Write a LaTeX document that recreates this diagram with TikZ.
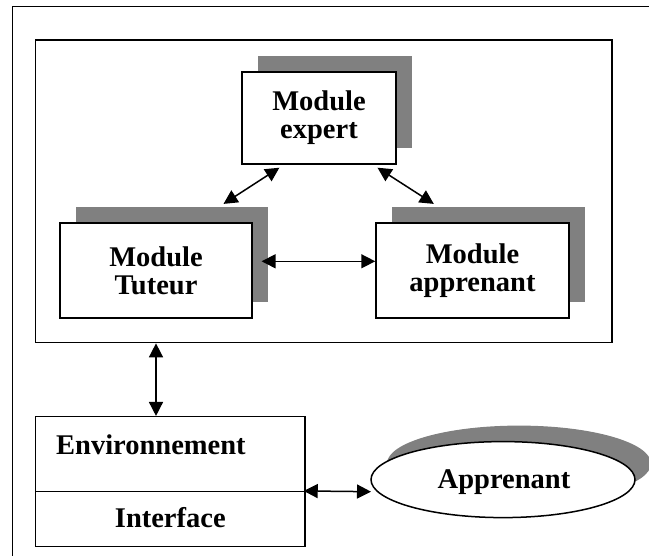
\documentclass[tikz,border=0pt]{standalone}
\usepackage{fontspec}
\setmainfont{Liberation Serif}
\usetikzlibrary{arrows.meta,shapes.geometric,shadows}
\definecolor{shadowgray}{RGB}{128,128,128}
\begin{document}
\begin{tikzpicture}[x=1pt,y=-1pt,
  lw/.style={line width=1.5pt},
  txt/.style={font=\fontsize{28.5}{28}\selectfont\bfseries},
  shad/.style={drop shadow={shadow xshift=16pt, shadow yshift=16pt, fill=shadowgray, opacity=1}},
  modbox/.style={draw, lw, fill=white, inner sep=0pt, align=center, txt, shad},
  plainbox/.style={draw, lw, fill=white, inner sep=0pt},
  dblarrow/.style={lw, {Triangle[length=14pt,width=14pt]}-{Triangle[length=14pt,width=14pt]}}
]
\useasboundingbox (0,0) rectangle (649,556);
\fill[white] (0,0) rectangle (649,556);
% outer frame (cropped)
\draw[lw] (12.4,556) -- (12.4,6.4) -- (649,6.4);
% main box
\node[plainbox, minimum width=576.2pt, minimum height=302.6pt] (main) at (323.7,191.3) {};
% modules
\node[modbox, minimum width=154pt, minimum height=92pt] (expert) at (319,118) {Module\\expert};
\node[modbox, minimum width=192pt, minimum height=95pt] (tuteur) at (156,270.5) {Module\\Tuteur};
\node[modbox, minimum width=193pt, minimum height=95pt] (appmod) at (472.5,270.5) {Module\\apprenant};
% connection points
\coordinate (e1) at (279.4,167.7);
\coordinate (t1) at (223.5,203.9);
\coordinate (e2) at (377.5,167.7);
\coordinate (a1) at (433.8,203.9);
\coordinate (t2) at (261.6,261.3);
\draw[dblarrow] (e1) -- (t1);
\draw[dblarrow] (e2) -- (a1);
\draw[dblarrow] (t2) -- (t2 -| appmod.west);
% environment / interface
\node[plainbox, minimum width=269.4pt, minimum height=75pt] (env) at (170.3,454.2) {};
\node[plainbox, minimum width=269.4pt, minimum height=55pt] (iface) at (170.3,519.2) {};
\node[txt, anchor=base west, inner sep=0pt] (envtxt) at (56,455) {Environnement};
\node[txt, anchor=base, inner sep=0pt] (ifacetxt) at (170.3,527) {Interface};
\draw[dblarrow] (main.south -| 156,0) -- (env.north -| 156,0);
% learner ellipse
\node[ellipse, draw, lw, fill=white, inner sep=0pt, minimum width=264pt, minimum height=76pt, shad] (appr) at (503,479.6) {};
\node[txt, anchor=base, inner sep=0pt] (apprtxt) at (504,489) {Apprenant};
\coordinate (apin) at (371,491.7);
\draw[dblarrow] ([xshift=-2pt]iface.north east) -- (apin);
\end{tikzpicture}
\end{document}
